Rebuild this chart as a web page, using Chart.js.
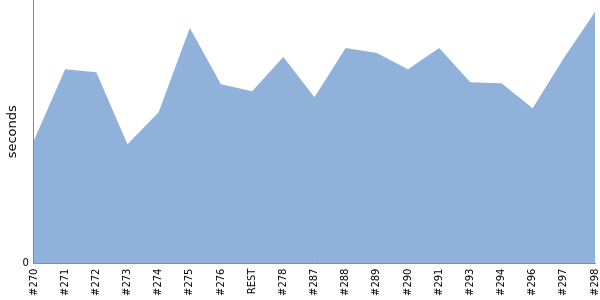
<!DOCTYPE html>
<html>
<head>
<meta charset="utf-8">
<script src="https://cdn.jsdelivr.net/npm/chart.js@4/dist/chart.umd.min.js"></script>
<style>
html,body{margin:0;padding:0;background:#fff;overflow:hidden;width:600px;height:300px;}
#wrap{width:609px;height:308px;position:absolute;left:0;top:-8px;}
</style>
</head>
<body>
<div id="wrap"><canvas id="c"></canvas></div>
<script>
const categories = ['#270','#271','#272','#273','#274','#275','#276','REST','#278','#287','#288','#289','#290','#291','#293','#294','#296','#297','#298'];
const seconds = [123,194,191,119,151,235,179,172,206,166,215,210,194,215,181,180,155,205,251];
const yTicks = [0];
const yMax = 263;

new Chart(document.getElementById('c'), {
  type: 'line',
  data: {
    labels: categories,
    datasets: [{
      data: seconds,
      fill: 'origin',
      backgroundColor: '#8fb1da',
      borderColor: '#8fb1da',
      borderWidth: 0,
      pointRadius: 0,
      tension: 0
    }]
  },
  options: {
    responsive: true,
    maintainAspectRatio: false,
    animation: false,
    layout: { padding: { top: 0, right: 0, left: 5, bottom: 2 } },
    plugins: { legend: { display: false }, tooltip: { enabled: false } },
    scales: {
      x: {
        offset: false,
        grid: { display: false, drawTicks: true, tickLength: 3 },
        border: { color: '#888', width: 1 },
        ticks: { minRotation: 90, maxRotation: 90, autoSkip: false, color: '#000', font: { family: 'DejaVu Sans', size: 10 }, padding: 2 }
      },
      y: {
        min: 0, max: yMax,
        afterBuildTicks: (axis) => { axis.ticks = yTicks.map(v => ({ value: v })); },
        grid: { display: false, tickLength: 3 },
        border: { color: '#888', width: 1 },
        ticks: { color: '#000', font: { family: 'DejaVu Sans', size: 10 }, padding: 2 },
        title: { display: true, text: 'seconds', color: '#000', font: { family: 'DejaVu Sans', size: 13 }, padding: 0 }
      }
    }
  }
});
</script>
</body>
</html>
